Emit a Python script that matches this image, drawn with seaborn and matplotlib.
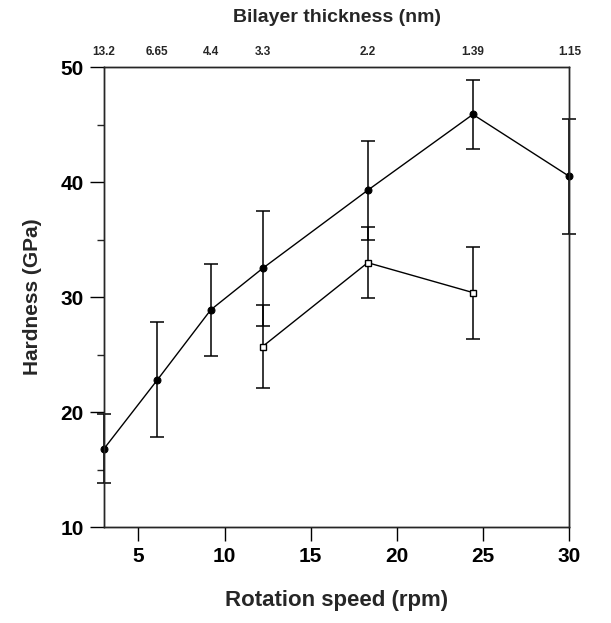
import numpy as np
import pandas as pd
import matplotlib
matplotlib.use("Agg")
import matplotlib.pyplot as plt
import seaborn as sns
from matplotlib.ticker import MultipleLocator

sns.set_style("ticks")
plt.rcParams['font.family'] = ['Liberation Sans', 'DejaVu Sans']
plt.rcParams['font.weight'] = 'bold'

# Data
speed_a = [3, 6.1, 9.2, 12.2, 18.3, 24.4, 30.0]
hard_a = [16.8, 22.8, 28.9, 32.5, 39.3, 45.9, 40.5]
err_a = [3.0, 5.0, 4.0, 5.0, 4.3, 3.0, 5.0]

speed_b = [12.2, 18.3, 24.4]
hard_b = [25.7, 33.0, 30.4]
err_b = [3.6, 3.1, 4.0]

top_ticks = [3, 6.1, 9.2, 12.2, 18.3, 24.4, 30.0]
top_labels = ["13.2", "6.65", "4.4", "3.3", "2.2", "1.39", "1.15"]

df_a = pd.DataFrame({"speed": speed_a, "hardness": hard_a})
df_b = pd.DataFrame({"speed": speed_b, "hardness": hard_b})

fig = plt.figure(figsize=(6.11, 6.23), dpi=100)
ax = fig.add_axes([0.170, 0.154, 0.762, 0.738])

for xs, ys, es in [(speed_a, hard_a, err_a), (speed_b, hard_b, err_b)]:
    eb = ax.errorbar(xs, ys, yerr=es, fmt='none', ecolor='black',
                     elinewidth=1.1, capsize=5, capthick=1.1, zorder=2)
    for art in eb.lines[1] + eb.lines[2]:
        art.set_clip_on(False)
    for art in eb.lines[2]:
        art.set_clip_on(False)

sns.lineplot(data=df_a, x="speed", y="hardness", ax=ax, color='black',
             linewidth=1.0, marker='o', markersize=5, markerfacecolor='black',
             markeredgecolor='black', zorder=3, clip_on=False)
sns.lineplot(data=df_b, x="speed", y="hardness", ax=ax, color='black',
             linewidth=1.0, marker='s', markersize=5, markerfacecolor='white',
             markeredgecolor='black', markeredgewidth=1.0, zorder=3, clip_on=False)

ax.set_xlim(3, 30)
ax.set_ylim(10, 50)
ax.set_xticks([5, 10, 15, 20, 25, 30])
ax.set_yticks([10, 20, 30, 40, 50])
ax.yaxis.set_minor_locator(MultipleLocator(5))
ax.tick_params(axis='both', which='major', direction='out', length=10,
               width=1.0, labelsize=15, colors='black', pad=4.5)
ax.tick_params(axis='y', which='minor', direction='out', length=5, width=1.0)
for lab in ax.get_xticklabels() + ax.get_yticklabels():
    lab.set_fontweight('bold')

ax.set_xlabel("Rotation speed (rpm)", fontsize=16, fontweight='bold', labelpad=17)
ax.set_ylabel("Hardness (GPa)", fontsize=15, fontweight='bold', labelpad=13)

for s in ax.spines.values():
    s.set_visible(True)
    s.set_linewidth(1.0)
    s.set_color('black')

ax2 = ax.twiny()
ax2.set_xlim(ax.get_xlim())
ax2.set_xticks(top_ticks)
ax2.set_xticklabels(top_labels, fontsize=8.5, fontweight='bold')
ax2.tick_params(axis='x', length=0, pad=7)
ax2.set_xlabel("Bilayer thickness (nm)", fontsize=14, fontweight='bold', labelpad=17)
for s in ax2.spines.values():
    s.set_linewidth(1.0)

fig.savefig("out.png", dpi=100)
